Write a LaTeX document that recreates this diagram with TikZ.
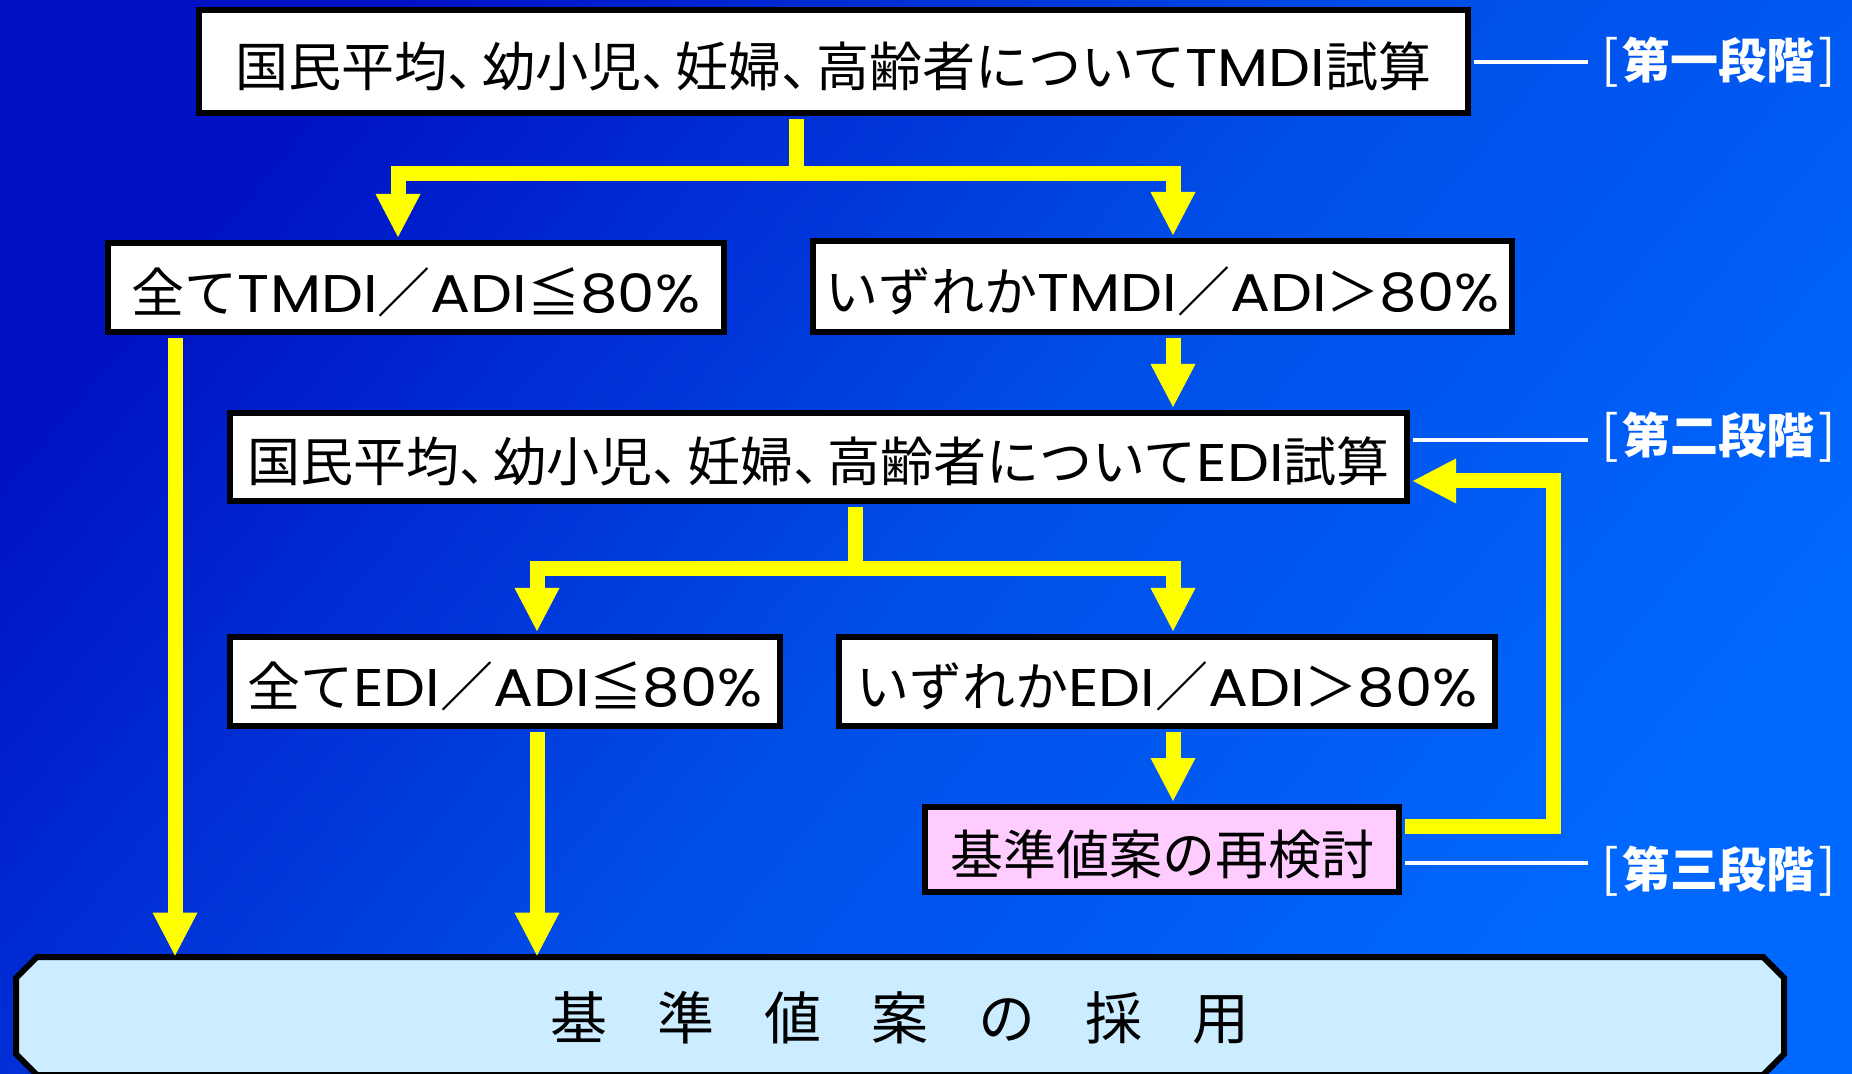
\documentclass[tikz,border=0pt]{standalone}
\usepackage{fontspec}
\setmainfont{Noto Sans CJK JP}
\newfontfamily\lat{Poppins}[FakeStretch=1.12]
\usetikzlibrary{arrows.meta,calc}
\definecolor{bgA}{RGB}{0,18,196}
\definecolor{bgM}{RGB}{0,76,230}
\definecolor{bgB}{RGB}{0,104,255}
\definecolor{pinkbox}{RGB}{255,204,255}
\definecolor{lightbox}{RGB}{204,236,255}
\definecolor{flowyellow}{RGB}{255,255,0}
\tikzset{
  box/.style={draw=black, line width=3pt, fill=white, inner sep=0pt, text=black,
    font=\fontsize{26.5pt}{30pt}\selectfont, text height=25pt, text depth=0pt},
  flow/.style={draw=flowyellow, line width=7.5pt,
    -{Triangle[length=21.5pt,width=22.5pt,line width=0pt]}, shorten >=1.5pt},
  frombox/.style={shorten <=1.5pt},
  lbl/.style={draw=white, line width=1.75pt, shorten <=1.5pt},
  stage/.style={text=white, inner sep=0pt, anchor=west,
    font=\fontsize{24pt}{28pt}\selectfont\bfseries},
}
\newcommand{\tten}{、\kern-0.35em}
\newcommand{\gsp}{\kern25pt}
\newcommand{\stagetext}[1]{{\mdseries\fontsize{26pt}{28pt}\selectfont[}\kern0.08em #1\kern0.08em{\mdseries\fontsize{26pt}{28pt}\selectfont]}}
\begin{document}
\begin{tikzpicture}[x=0.5pt,y=-0.5pt]
\useasboundingbox (0,0) rectangle (1852,1074);
\clip (0,0) rectangle (1852,1074);
\shade[top color=bgA, bottom color=bgB, middle color=bgM, shading angle=50]
  (0,0) rectangle (1852,1074);

% bottom chamfered box outline
\draw[line width=3pt, fill=lightbox] (37,957) -- (1763,957) -- (1784,978) -- (1784,1054)
  -- (1763,1075) -- (37,1075) -- (16,1054) -- (16,978) -- cycle;

% nodes
\node[box, minimum width=634.5pt, minimum height=51.5pt] (T) at (833.5,61.5)
  {国民平均\tten 幼小児\tten 妊婦\tten 高齢者について{\lat TMDI}試算};
\node[box, minimum width=308pt, minimum height=44.5pt] (A) at (416,287.5)
  {全て{\lat TMDI}／{\lat ADI}≦{\lat 80\%}};
\node[box, minimum width=349.5pt, minimum height=45.5pt] (B) at (1162.5,286.5)
  {いずれか{\lat TMDI}／{\lat ADI}＞{\lat 80\%}};
\node[box, minimum width=588.5pt, minimum height=44pt] (C) at (818.5,457)
  {国民平均\tten 幼小児\tten 妊婦\tten 高齢者について{\lat EDI}試算};
\node[box, minimum width=275pt, minimum height=44.5pt] (D) at (505,681.5)
  {全て{\lat EDI}／{\lat ADI}≦{\lat 80\%}};
\node[box, minimum width=328pt, minimum height=44.5pt] (E) at (1167,681.5)
  {いずれか{\lat EDI}／{\lat ADI}＞{\lat 80\%}};
\node[box, fill=pinkbox, minimum width=237pt, minimum height=42.5pt] (F) at (1162,849.5)
  {基準値案の再検討};
\node[inner sep=0pt, minimum width=884pt, minimum height=59pt, text=black,
  font=\fontsize{28.5pt}{32pt}\selectfont] (G) at (900,1018)
  {基\gsp 準\gsp 値\gsp 案\gsp の\gsp 採\gsp 用};

% stage labels
\node[stage] (L1) at (1601,62) {\stagetext{第一段階}};
\node[stage] (L2) at (1601,437) {\stagetext{第二段階}};
\node[stage] (L3) at (1601,871) {\stagetext{第三段階}};

% helper coordinates
\coordinate (s1) at (796,174);
\coordinate (s2) at (855,569);
\coordinate (xa) at (175,0);
\coordinate (xl) at (398,0);
\coordinate (xd) at (537,0);
\coordinate (xr) at (1173,0);
\coordinate (fb) at (1553,826);
\coordinate (fy) at (0,481);
\coordinate (e1) at (1588,62);
\coordinate (e2) at (1588,440);
\coordinate (e3) at (1588,863);

% connectors
\draw[flow, frombox] (T.south -| s1) -- (s1) -| (A.north -| xl);
\draw[flow] (s1) -| (B.north -| xr);
\draw[flow, frombox] (B.south -| xr) -- (C.north -| xr);
\draw[flow, frombox] (C.south -| s2) -- (s2) -| (D.north -| xd);
\draw[flow] (s2) -| (E.north -| xr);
\draw[flow, frombox] (E.south -| xr) -- (F.north -| xr);
\draw[flow, frombox] (F.east |- fb) -- (fb) |- (C.east |- fy);
\draw[flow, frombox] (A.south -| xa) -- (G.north -| xa);
\draw[flow, frombox] (D.south -| xd) -- (G.north -| xd);

% stage lines
\draw[lbl] (T.east |- e1) -- (e1);
\draw[lbl] (C.east |- e2) -- (e2);
\draw[lbl] (F.east |- e3) -- (e3);
\end{tikzpicture}
\end{document}
